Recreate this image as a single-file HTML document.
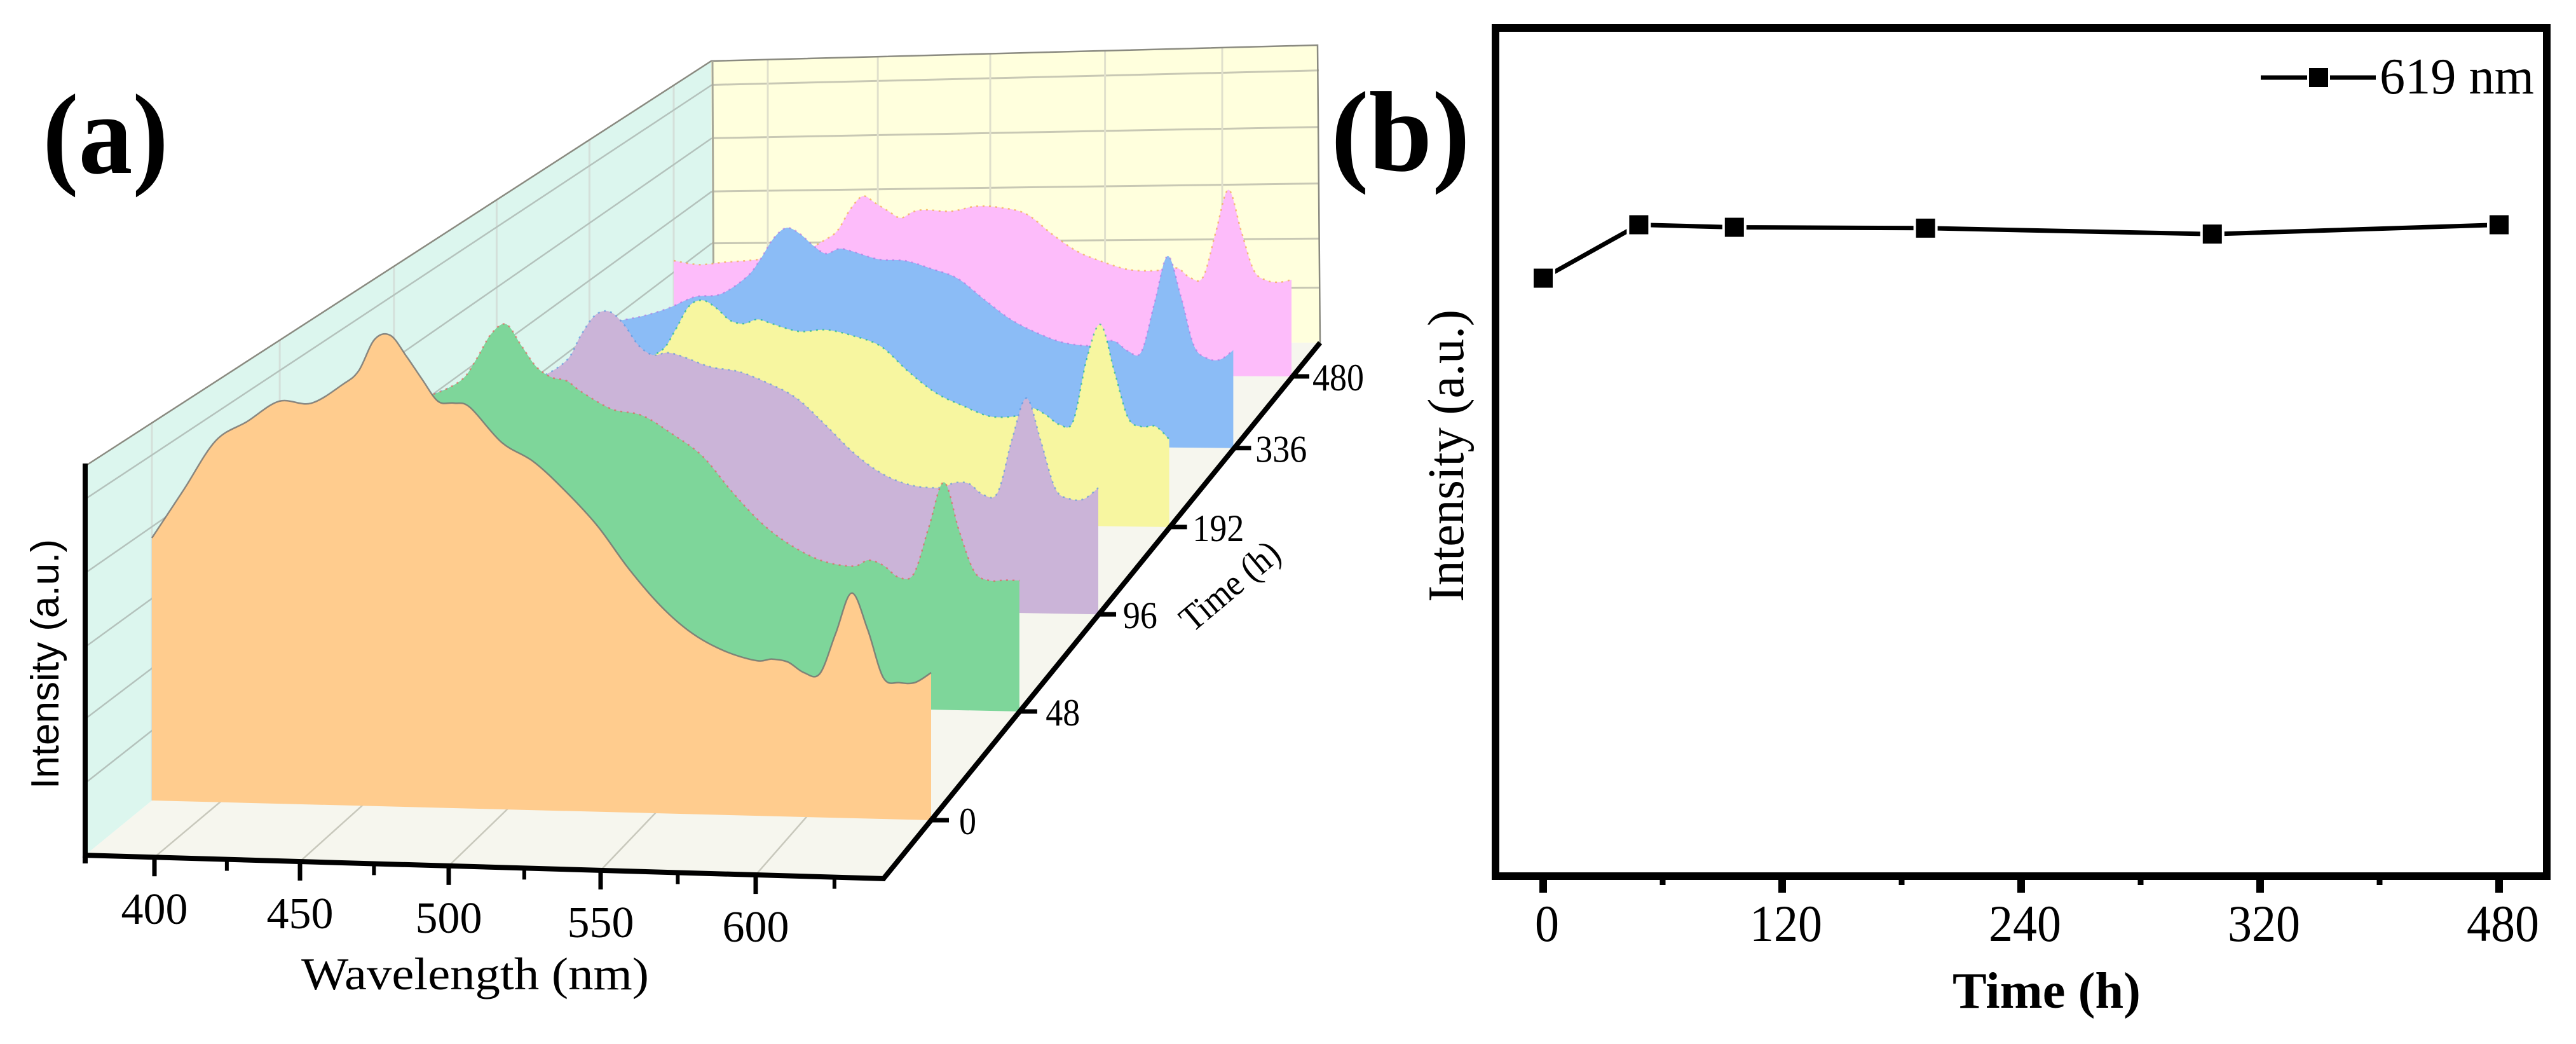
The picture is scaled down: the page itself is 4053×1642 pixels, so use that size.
<!DOCTYPE html>
<html>
<head>
<meta charset="utf-8">
<title>Intensity versus wavelength and time</title>
<style>
html,body{margin:0;padding:0;background:#fff}
svg{display:block}
text{font-family:"Liberation Serif",serif;fill:#000}
</style>
</head>
<body>
<svg id="fig" xmlns="http://www.w3.org/2000/svg" width="4053" height="1642" viewBox="0 0 4053 1642">
  <rect width="4053" height="1642" fill="#fff"/>
  <g id="plot3d">
    <polygon points="134,733 1119,96 1122,537 134,1345" fill="#dcf6ee" stroke="none"/>
    <polygon points="1119,96 2073,71 2077,539 1122,537" fill="#ffffdd" stroke="none"/>
    <polygon points="134,1345 1122,537 2077,539 1390,1382" fill="#f6f6ee" stroke="none"/>
    <g id="grid3d"></g>
    <polyline points="134,733 1119,96 2073,71 2077,539" fill="none" stroke="#8a8a80" stroke-width="2.5"/>
    <line x1="1121" y1="96" x2="1123" y2="537" stroke="#a8a898" stroke-width="3"/>
    <g id="ribbons"></g>
    <line x1="134" y1="729" x2="134" y2="1358" stroke="#000" stroke-width="8"/>
    <line x1="130" y1="1345" x2="1393" y2="1382" stroke="#000" stroke-width="8"/>
    <line x1="1390" y1="1382" x2="2077" y2="539" stroke="#000" stroke-width="8"/>
    <g id="axes3d"></g>
    <text x="474" y="1556" font-size="72" textLength="547" lengthAdjust="spacingAndGlyphs">Wavelength (nm)</text>
    <text transform="translate(1876,996) rotate(-40)" font-size="58" textLength="186" lengthAdjust="spacingAndGlyphs">Time (h)</text>
    <text transform="translate(92,1241) rotate(-90)" font-size="62" textLength="393" lengthAdjust="spacingAndGlyphs" style="font-family:'Liberation Sans',sans-serif">Intensity (a.u.)</text>
  </g>
  <text x="67" y="272" font-size="180" font-weight="bold" textLength="198" lengthAdjust="spacingAndGlyphs">(a)</text>
  <text x="2094" y="268" font-size="180" font-weight="bold" textLength="219" lengthAdjust="spacingAndGlyphs">(b)</text>
  <g id="plot2d">
    <rect x="2353" y="44" width="1654" height="1334" fill="none" stroke="#000" stroke-width="12"/>
    <g id="axes2d"></g>
    <g id="series2d"></g>
    <g>
      <line x1="3557" y1="122" x2="3738" y2="122" stroke="#000" stroke-width="7"/>
      <rect x="3633" y="107" width="30" height="30" fill="#000" stroke="#fff" stroke-width="6" paint-order="stroke"/>
      <text x="3744" y="147" font-size="80" textLength="243" lengthAdjust="spacingAndGlyphs">619 nm</text>
    </g>
    <text x="3072" y="1585" font-size="80" font-weight="bold" textLength="296" lengthAdjust="spacingAndGlyphs">Time (h)</text>
    <text transform="translate(2302,947) rotate(-90)" font-size="80" textLength="460" lengthAdjust="spacingAndGlyphs">Intensity (a.u.)</text>
  </g>
</svg>
<script>
// ---------- panel (a) data ----------
const times = [0, 48, 96, 192, 336, 480];
const timeLabels = ['0', '48', '96', '192', '336', '480'];
const wavelengths = [400,410,420,430,440,450,460,465,470,475,480,485,490,495,500,510,520,530,540,550,560,570,580,590,595,600,605,610,615,620,625,630,635,640,645];
const intensity0h = [413,490,568,600,633,631,662,684,734,741,709,673,639,637,631,577,548,503,450,383,326,284,258,244,247,243,227,226,290,354,298,222,215,216,232];
const intensity48h = [380,430,450,465,470,478,502,535,576,592,559,526,510,505,488,462,453,425,391,335,286,252,230,223,233,225,207,213,287,358,283,219,205,206,206];
const intensity96h = [300,320,340,355,355,357,385,425,457,463,443,411,396,400,395,379,372,355,332,291,247,215,198,195,203,202,185,189,273,338,271,197,181,181,199];
const intensity192h = [180,200,215,240,255,250,267,299,337,347,335,316,311,318,312,300,303,294,278,239,206,186,170,172,184,174,159,164,263,317,244,171,157,158,138];
const intensity336h = [175,190,199,212,230,235,263,290,323,340,331,313,300,308,304,292,290,278,263,231,200,179,164,159,166,166,151,150,227,301,239,161,141,139,154];
const intensity480h = [177,171,175,178,183,190,211,226,259,280,269,257,246,256,259,257,265,263,253,222,195,179,167,165,168,169,154,156,227,293,229,167,151,148,152];
const wavelengthMajorTicks = [400, 450, 500, 550, 600];
const wavelengthMinorTicks = [425, 475, 525, 575, 625];
const wallGridLevels = [0.185, 0.35, 0.535, 0.725, 0.915];

// ---------- panel (b) data ----------
const pointTimes = [0, 48, 96, 192, 336, 480];
const pointIntensity = [70.5, 76.8, 76.5, 76.4, 75.7, 76.8];
const xTickValues = [0, 120, 240, 360, 480];
const xTickLabels = ['0', '120', '240', '320', '480'];
const xMinorTicks = [60, 180, 300, 420];

// ---------- styling ----------
const ribbonSeries = [intensity0h, intensity48h, intensity96h, intensity192h, intensity336h, intensity480h];
const ribbonFill = ['#ffcc8e', '#7ed69a', '#cbb4d8', '#f7f6a0', '#8bbcf6', '#fdbcfa'];
const ribbonEdge = ['#707070', '#f05050', '#4a90e0', '#00b080', '#b070e0', '#f0a030'];

const SVGNS = 'http://www.w3.org/2000/svg';
function mk(tag, attrs, parent) {
  const el = document.createElementNS(SVGNS, tag);
  for (const k in attrs) el.setAttribute(k, attrs[k]);
  parent.appendChild(el);
  return el;
}
const lerp = (a, b, f) => a + (b - a) * f;

// ---------- panel (a) axis functions ----------
function timeFrac(i) {
  const c = 0.0596, n = times.length - 1;
  return i * (1 + n * c) / (n * (1 + c * i));
}
const ribbonLeft = i => lerp(239, 1060, timeFrac(i));
const ribbonRight = i => lerp(1465, 2032, timeFrac(i));
const baseLeft = i => lerp(1259, 587, timeFrac(i));
const baseRight = i => lerp(1290, 592, timeFrac(i));
const wlFrac = w => (w - 400) / 245;
const ribbonX = (w, i) => lerp(ribbonLeft(i), ribbonRight(i), wlFrac(w));
const ribbonBase = (w, i) => lerp(baseLeft(i), baseRight(i), wlFrac(w));
const ribbonY = (w, i, v) => ribbonBase(w, i) - v;
const frontX = w => 243 + 4.53 * (w - 400) + 0.001 * (w - 400) * (w - 400);
const frontY = x => 1345 + (x - 134) * 37 / 1256;
const backX = w => 1208 + 3.425 * (w - 400) + 0.00075 * (w - 400) * (w - 400);
const wallTopY = x => 733 - (x - 134) * 637 / 985;
const wallBottomY = x => 1345 - (x - 134) * 808 / 988;

function smoothPath(pts) {
  let d = '';
  for (let k = 0; k < pts.length - 1; k++) {
    const p0 = pts[Math.max(k - 1, 0)], p1 = pts[k], p2 = pts[k + 1], p3 = pts[Math.min(k + 2, pts.length - 1)];
    const c1x = p1[0] + (p2[0] - p0[0]) / 6, c1y = p1[1] + (p2[1] - p0[1]) / 6;
    const c2x = p2[0] - (p3[0] - p1[0]) / 6, c2y = p2[1] - (p3[1] - p1[1]) / 6;
    d += ' C' + c1x.toFixed(1) + ',' + c1y.toFixed(1) + ' ' + c2x.toFixed(1) + ',' + c2y.toFixed(1) + ' ' + p2[0].toFixed(1) + ',' + p2[1].toFixed(1);
  }
  return d;
}

// walls and floor grid
const grid3d = document.getElementById('grid3d');
times.forEach((t, i) => {
  const x = ribbonLeft(i);
  const gl = mk('line', {x1: x, y1: wallTopY(x), x2: x, y2: wallBottomY(x), stroke: '#d4e0da', 'stroke-width': 3}, grid3d);
  
  
});
wallGridLevels.forEach(f => {
  const y0 = lerp(1345, 733, f), y1 = lerp(537, 96, f), y2 = lerp(539, 71, f);
  const a = mk('line', {x1: 134, y1: y0, x2: 1120, y2: y1, stroke: '#b4c2bc', 'stroke-width': 2.5}, grid3d);
  
  
  const b = mk('line', {x1: 1120, y1: y1, x2: 2075, y2: y2, stroke: '#c8c8b4', 'stroke-width': 3}, grid3d);
  
  
});
wavelengthMajorTicks.forEach(w => {
  const fx = frontX(w), bx = backX(w);
  const a = mk('line', {x1: bx, y1: lerp(96, 71, (bx - 1119) / 954), x2: bx, y2: 538, stroke: '#e0e0cc', 'stroke-width': 3}, grid3d);
  
  
  const b = mk('line', {x1: fx, y1: frontY(fx), x2: bx, y2: 538, stroke: '#c8c8bc', 'stroke-width': 2.5}, grid3d);
  
  
});

// ribbons, back to front
const ribbons = document.getElementById('ribbons');
for (let i = times.length - 1; i >= 0; i--) {
  const values = ribbonSeries[i];
  const pts = wavelengths.map((w, k) => [ribbonX(w, i), ribbonY(w, i, values[k])]);
  const top = 'M' + pts[0][0].toFixed(1) + ',' + pts[0][1].toFixed(1) + smoothPath(pts);
  const area = mk('path', {d: top + ' L' + ribbonRight(i).toFixed(1) + ',' + baseRight(i).toFixed(1) + ' L' + ribbonLeft(i).toFixed(1) + ',' + baseLeft(i).toFixed(1) + ' Z', fill: ribbonFill[i]}, ribbons);
  
  
  const edge = mk('path', {d: top, fill: 'none', stroke: ribbonEdge[i], 'stroke-width': 2.5, 'stroke-opacity': i === 0 ? 0.8 : 0.6, 'stroke-dasharray': i === 0 ? 'none' : '3 7'}, ribbons);
  
  
}

// axis ticks and labels for panel (a)
const axes3d = document.getElementById('axes3d');
wavelengthMajorTicks.forEach(w => {
  const x = frontX(w), y = frontY(x);
  const t = mk('line', {x1: x, y1: y, x2: x, y2: y + 30, stroke: '#000', 'stroke-width': 7}, axes3d);
  
  
  const l = mk('text', {x: x, y: y + 105, 'font-size': 70, 'text-anchor': 'middle'}, axes3d);
  
  
  l.textContent = String(w);
});
wavelengthMinorTicks.forEach(w => {
  const x = frontX(w), y = frontY(x);
  const t = mk('line', {x1: x, y1: y, x2: x, y2: y + 18, stroke: '#000', 'stroke-width': 6}, axes3d);
  
  
});
times.forEach((t, i) => {
  const x = ribbonRight(i), y = baseRight(i);
  const tk = mk('line', {x1: x, y1: y, x2: x + 28, y2: y, stroke: '#000', 'stroke-width': 7}, axes3d);
  
  
  const l = mk('text', {x: x + lerp(44, 33, timeFrac(i)), y: y + 22, 'font-size': 60, textLength: timeLabels[i].length * 27, lengthAdjust: 'spacingAndGlyphs'}, axes3d);
  
  
  l.textContent = timeLabels[i];
});

// ---------- panel (b) axis functions ----------
const xScale = t => 2428 + t * 3.1333;
const yScale = v => 1378 - v * 13.34;
const axes2d = document.getElementById('axes2d');
xTickValues.forEach((t, i) => {
  const x = xScale(t);
  const tk = mk('line', {x1: x, y1: 1384, x2: x, y2: 1404, stroke: '#000', 'stroke-width': 12}, axes2d);
  
  
  const l = mk('text', {x: x + 6, y: 1480, 'font-size': 82, 'text-anchor': 'middle', textLength: xTickLabels[i].length * 38, lengthAdjust: 'spacingAndGlyphs'}, axes2d);
  
  
  l.textContent = xTickLabels[i];
});
xMinorTicks.forEach(t => {
  const x = xScale(t);
  const tk = mk('line', {x1: x, y1: 1384, x2: x, y2: 1392, stroke: '#000', 'stroke-width': 9}, axes2d);
  
  
});
const series2d = document.getElementById('series2d');
const polyPts = pointTimes.map((t, i) => xScale(t).toFixed(1) + ',' + yScale(pointIntensity[i]).toFixed(1)).join(' ');
const seriesLine = mk('polyline', {points: polyPts, fill: 'none', stroke: '#000', 'stroke-width': 7}, series2d);


pointTimes.forEach((t, i) => {
  const m = mk('rect', {x: xScale(t) - 15, y: yScale(pointIntensity[i]) - 15, width: 30, height: 30, fill: '#000', stroke: '#fff', 'stroke-width': 8, 'paint-order': 'stroke'}, series2d);
  
  
});
</script>
</body>
</html>
